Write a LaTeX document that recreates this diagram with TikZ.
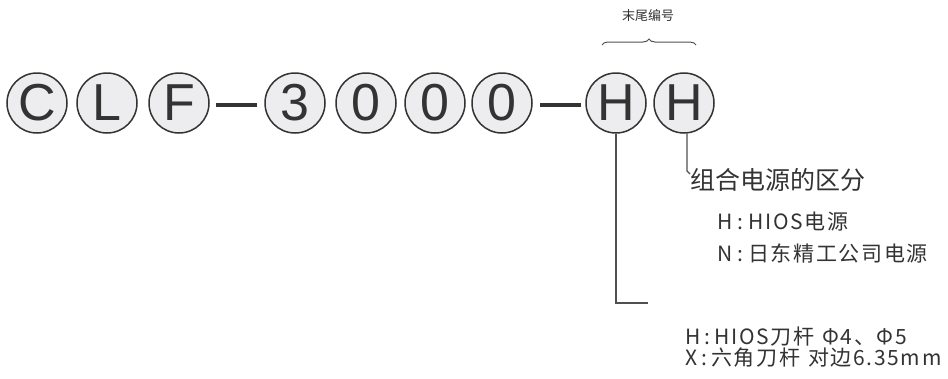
\documentclass[tikz,border=0pt]{standalone}
\usepackage{fontspec}
\setmainfont{Liberation Sans}
\newfontfamily\cjk{Noto Sans CJK SC}
\newfontfamily\cjksp{Noto Sans CJK SC}[LetterSpace=8]
\usetikzlibrary{decorations.pathreplacing,calc}
\definecolor{ink}{HTML}{333333}
\definecolor{lineg}{HTML}{505050}
\definecolor{disc}{HTML}{EDEDEF}
\begin{document}
\begin{tikzpicture}[x=1pt,y=-1pt,
  letter/.style={circle,draw=ink,line width=1.5pt,fill=disc,minimum size=60pt,inner sep=0pt,text=ink,font=\fontsize{52}{52}\selectfont},
  hyph/.style={draw=ink,line width=4pt},
  lead/.style={draw=lineg,line width=1.3pt},
  label/.style={text=ink,anchor=west,inner sep=0pt,font=\cjksp\fontsize{21}{21}\selectfont},
  title/.style={text=ink,anchor=west,inner sep=0pt,font=\cjk\fontsize{25}{25}\selectfont},
  small/.style={text=ink,inner sep=0pt,font=\cjk\fontsize{13}{13}\selectfont}
]
\useasboundingbox (0,0) rectangle (948,378);
\fill[white] (0,0) rectangle (948,378);

\node[letter] (c)  at (37,103)  {C};
\node[letter] (l)  at (107,103) {L};
\node[letter] (f)  at (179,103) {F};
\node[letter] (n3) at (295,103) {3};
\node[letter] (n0a) at (366,103) {0};
\node[letter] (n0b) at (435,103) {0};
\node[letter] (n0c) at (502,103) {0};
\node[letter] (h1) at (616,103) {H};
\node[letter] (h2) at (684,103) {H};

\draw[hyph] ($(f.east)!0.12!(n3.west)+(0,2)$) -- ($(f.east)!0.87!(n3.west)+(0,2)$);
\draw[hyph] ($(n0c.east)!0.14!(h1.west)+(0,2)$) -- ($(n0c.east)!0.92!(h1.west)+(0,2)$);

% brace
\coordinate (bl) at (602,45);
\coordinate (br) at (696,45);
\draw[draw=lineg,line width=1pt,decorate,decoration={brace,amplitude=6pt}] (bl) -- (br);
\node[small] (tail) at (648,16) {末尾编号};

% lead for second H
\coordinate (k2) at (687,171);
\coordinate (k2e) at (690,174);
\draw[lead] ($(h2.south)+(3,0)$) -- (k2) -- (k2e);
\node[title] (g) at (690,180) {组合电源的区分};
\node[label] (g1) at (717,222) {H\hspace{5pt}:\hspace{5pt}HIOS电源};
\node[label] (g2) at (717,253) {N\hspace{5pt}:\hspace{5pt}日东精工公司电源};

% lead for first H
\coordinate (k1) at (616,303);
\coordinate (k1e) at (648,303);
\draw[lead] (h1.south) -- (k1) -- (k1e);
\node[label] (s1) at (685,337) {H\hspace{4pt}:\hspace{4pt}HIOS刀杆\hspace{8pt}Φ4、Φ5};
\node[label] (s2) at (685,358) {X\hspace{4pt}:\hspace{4pt}六角刀杆\hspace{8pt}对边6.35mm};
\end{tikzpicture}
\end{document}
